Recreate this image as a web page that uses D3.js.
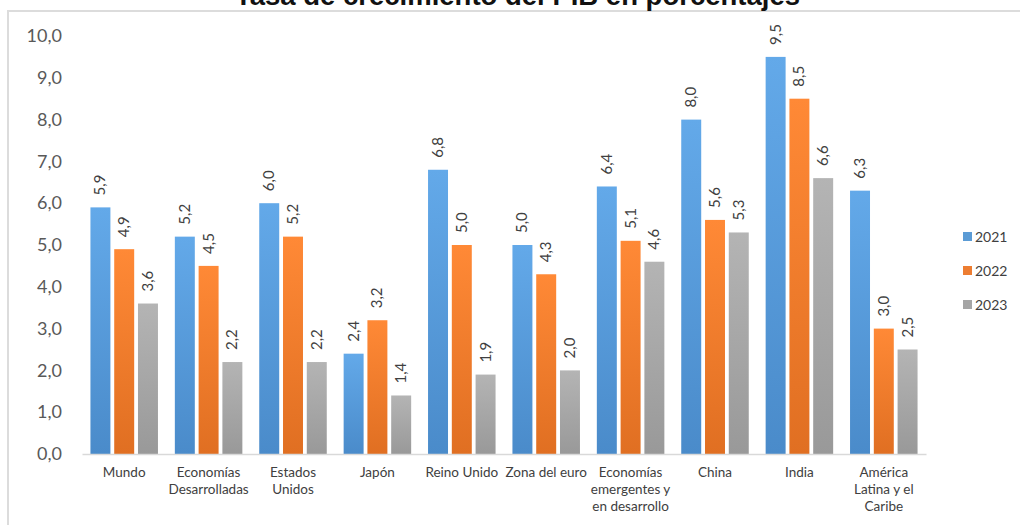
<!DOCTYPE html>
<html>
<head>
<meta charset="utf-8">
<script src="https://cdn.jsdelivr.net/npm/d3@7"></script>
<style>
  html, body { margin: 0; padding: 0; background: #fff; }
  svg { display: block; }
</style>
</head>
<body>
<svg id="chart" width="1020" height="525"></svg>
<script>
// Regions / economies (each entry split into display lines)
const categories = [
  ["Mundo"],
  ["Economías", "Desarrolladas"],
  ["Estados", "Unidos"],
  ["Japón"],
  ["Reino Unido"],
  ["Zona del euro"],
  ["Economías", "emergentes y", "en desarrollo"],
  ["China"],
  ["India"],
  ["América", "Latina y el", "Caribe"]
];
const years = ["2021", "2022", "2023"];
const values2021 = [5.9, 5.2, 6.0, 2.4, 6.8, 5.0, 6.4, 8.0, 9.5, 6.3];
const values2022 = [4.9, 4.5, 5.2, 3.2, 5.0, 4.3, 5.1, 5.6, 8.5, 3.0];
const values2023 = [3.6, 2.2, 2.2, 1.4, 1.9, 2.0, 4.6, 5.3, 6.6, 2.5];
const yTicks = [0, 1, 2, 3, 4, 5, 6, 7, 8, 9, 10];
const title = "Tasa de crecimiento del PIB en porcentajes";

const series = [values2021, values2022, values2023];
const colors = ["#5b9bd5", "#ed7d31", "#a5a5a5"];
const colorsDark = ["#4a8bca", "#e06f22", "#999999"];

const fmt = v => d3.format(".1f")(v).replace(".", ",");
const font = "Lato, 'Open Sans', sans-serif";

const svg = d3.select("#chart");

// Frame
svg.append("rect")
  .attr("x", 8).attr("y", 11)
  .attr("width", 1030).attr("height", 540)
  .attr("fill", "none")
  .attr("stroke", "#dcdcdc")
  .attr("stroke-width", 2);

// Title (sits above the frame)
svg.append("text")
  .attr("x", 235).attr("y", 5)
  .attr("font-family", "'Liberation Sans', Arial, sans-serif")
  .attr("font-weight", "bold")
  .attr("font-size", 27.5)
  .attr("fill", "#111")
  .text(title);

const plot = { left: 82, right: 926, top: 36, bottom: 454 };

const y = d3.scaleLinear().domain([0, 10]).range([plot.bottom, plot.top]);
const idx = d3.range(categories.length);
const x0 = d3.scaleBand().domain(idx).range([plot.left, plot.right]).paddingInner(0.2).paddingOuter(0.1);
const x1 = d3.scaleBand().domain(d3.range(years.length)).range([0, x0.bandwidth()]).paddingInner(0.16);

// Gradients
const defs = svg.append("defs");
colors.forEach((c, i) => {
  const g = defs.append("linearGradient")
    .attr("id", "grad" + i)
    .attr("x1", 0).attr("y1", 0).attr("x2", 0).attr("y2", 1);
  g.append("stop").attr("offset", "0%").attr("stop-color", d3.color(c).brighter(0.25));
  g.append("stop").attr("offset", "100%").attr("stop-color", colorsDark[i]);
});

// Y axis labels
const yAxis = d3.axisLeft(y).tickValues(yTicks).tickFormat(fmt).tickSize(0).tickPadding(0);
const yg = svg.append("g").attr("transform", `translate(62,0)`).call(yAxis);
yg.select(".domain").remove();
yg.selectAll("text")
  .attr("font-family", font)
  .attr("font-size", 18)
  .attr("fill", "#595959");

// Bars
const groups = svg.append("g").selectAll("g")
  .data(idx)
  .join("g")
  .attr("transform", i => `translate(${x0(i)},0)`);

groups.selectAll("rect")
  .data(i => series.map((s, k) => ({ k, v: s[i] })))
  .join("rect")
  .attr("x", d => x1(d.k))
  .attr("y", d => y(d.v))
  .attr("width", x1.bandwidth())
  .attr("height", d => y(0) - y(d.v))
  .attr("fill", d => `url(#grad${d.k})`);

// Value labels (rotated)
groups.selectAll("text.val")
  .data(i => series.map((s, k) => ({ k, v: s[i] })))
  .join("text")
  .attr("class", "val")
  .attr("transform", d => `translate(${x1(d.k) + x1.bandwidth() / 2 + 5},${y(d.v) - 12}) rotate(-90)`)
  .attr("text-anchor", "start")
  .attr("font-family", font)
  .attr("font-size", 15)
  .attr("fill", "#404040")
  .text(d => fmt(d.v));

// Baseline axis
const xAxis = d3.axisBottom(x0).tickSize(0).tickFormat("");
const xg = svg.append("g").attr("transform", `translate(0,${plot.bottom})`).call(xAxis);
xg.select(".domain").attr("stroke", "#d9d9d9").attr("stroke-width", 1.5);

// Category labels
const catLabels = svg.append("g").selectAll("text")
  .data(idx)
  .join("text")
  .attr("x", i => x0(i) + x0.bandwidth() / 2)
  .attr("y", 477)
  .attr("text-anchor", "middle")
  .attr("font-family", font)
  .attr("font-size", 13.5)
  .attr("fill", "#404040");
catLabels.selectAll("tspan")
  .data(i => categories[i].map(l => ({ l, x: x0(i) + x0.bandwidth() / 2 })))
  .join("tspan")
  .attr("x", d => d.x)
  .attr("dy", (d, j) => j === 0 ? 0 : 17)
  .text(d => d.l);

// Legend
const legend = svg.append("g").attr("transform", "translate(963,237)");
const li = legend.selectAll("g")
  .data(years)
  .join("g")
  .attr("transform", (d, i) => `translate(0,${i * 34})`);
li.append("rect")
  .attr("x", 0).attr("y", -5)
  .attr("width", 9).attr("height", 9)
  .attr("fill", (d, i) => colors[i]);
li.append("text")
  .attr("x", 12).attr("y", 5)
  .attr("font-family", font)
  .attr("font-size", 14)
  .attr("fill", "#404040")
  .text(d => d);
</script>
</body>
</html>
